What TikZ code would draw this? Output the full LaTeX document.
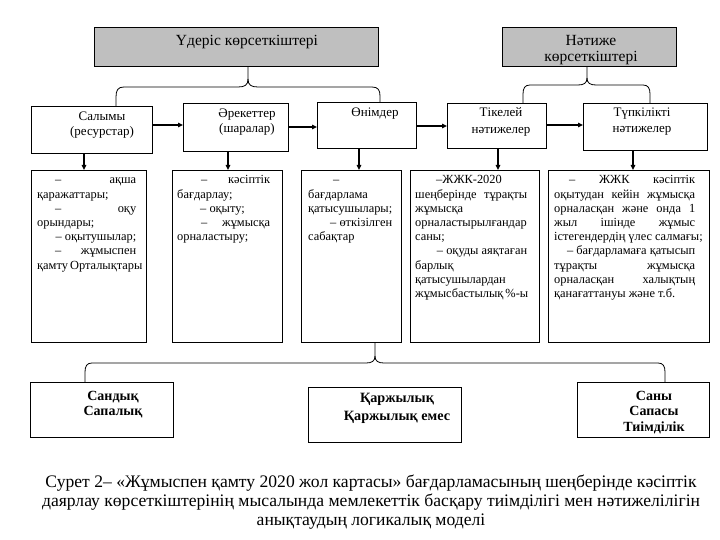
\documentclass[tikz,border=0pt]{standalone}
\usepackage{fontspec}
\setmainfont{Liberation Serif}
\usetikzlibrary{arrows.meta}
\newcommand\Ln[1]{\hbox to \hsize{\strut #1}}
\newcommand\J{\hskip 3pt plus 1fil\relax}
\newcommand\Dh{\hbox{–}}
\newcommand\JI[2]{\hbox to #1{\hfil}\hbox to \dimexpr\hsize-#1\relax{#2}}
\tikzset{
  box/.style={draw, line width=1.1pt, anchor=north west, inner sep=0},
  gbox/.style={box, fill=gray!50},
  gh/.style={align=center, inner sep=0, font=\fontsize{15.5}{16}\selectfont},
  hd/.style={align=center, inner sep=0, font=\fontsize{13}{15}\selectfont},
  bt/.style={align=center, inner sep=0, font=\bfseries\fontsize{14}{15.5}\selectfont},
  dt/.style={anchor=base west, inner sep=0, font=\fontsize{12.4}{14.2}\selectfont},
  arr/.style={line width=1.6pt, -{Triangle[length=5pt,width=4.5pt]}},
  br/.style={line width=0.8pt},
}
\begin{document}
\begin{tikzpicture}[x=1pt,y=-1pt]
\useasboundingbox (0,0) rectangle (720,540);
% top gray boxes
\node[gbox, minimum width=284pt, minimum height=39pt] (proc) at (94,27) {};
\node[gbox, minimum width=174pt, minimum height=39pt] (res) at (502,27) {};
\node[gh] (proct) at (247,42) {Үдеріс көрсеткіштері};
\node[gh] (rest) at (591,50) {Нәтиже\\көрсеткіштері};
% row 1
\node[box, minimum width=121pt, minimum height=47pt] (sal) at (31,106) {};
\node[box, minimum width=105pt, minimum height=48pt] (are) at (183,103) {};
\node[box, minimum width=99pt, minimum height=46pt] (oni) at (317,102) {};
\node[box, minimum width=99pt, minimum height=45pt] (tik) at (447,103) {};
\node[box, minimum width=124pt, minimum height=47pt] (tup) at (583,103) {};
\node[hd] (salt) at (102,125.5) {Салымы\\(ресурстар)};
\node[hd] (aret) at (247,122.5) {Әрекеттер\\(шаралар)};
\node[hd] (onit) at (375,114) {Өнімдер};
\node[hd, font=\fontsize{13}{17}\selectfont] (tikt) at (501,121.5) {Тікелей\\нәтижелер};
\node[hd, font=\fontsize{13}{16}\selectfont] (tupt) at (642,122) {Түпкілікті\\нәтижелер};
% row 2 boxes
\node[box, minimum width=115pt, minimum height=172pt] (d1) at (31,170) {};
\node[box, minimum width=110pt, minimum height=172pt] (d2) at (172,170) {};
\node[box, minimum width=100pt, minimum height=172pt] (d3) at (301,170) {};
\node[box, minimum width=129pt, minimum height=172pt] (d4) at (410,170) {};
\node[box, minimum width=161pt, minimum height=172pt] (d5) at (548,170) {};
% row 2 texts
\node[dt] (d1t) at (37,184) {\parbox[t]{99pt}{%
\Ln{\JI{18pt}{\Dh\hfil ақша}}
\Ln{қаражаттары;\hfil}
\Ln{\JI{18pt}{\Dh\hfil оқу}}
\Ln{орындары;\hfil}
\Ln{\hfil – оқытушылар;}
\Ln{\JI{18pt}{\Dh\hfil жұмыспен}}
\Ln{қамту Орталықтары\hfil}}};
\node[dt] (d2t) at (177,184) {\parbox[t]{93pt}{%
\Ln{\JI{24pt}{\Dh\hfil кәсіптік}}
\Ln{бағдарлау;\hfil}
\Ln{\JI{23pt}{– оқыту;\hfil}}
\Ln{\JI{24pt}{\Dh\hfil жұмысқа}}
\Ln{орналастыру;\hfil}}};
\node[dt] (d3t) at (308,184) {\parbox[t]{84pt}{%
\Ln{\JI{25pt}{\Dh\hfil}}
\Ln{бағдарлама\hfil}
\Ln{қатысушылары;\hfil}
\Ln{\hfil – өткізілген}
\Ln{сабақтар\hfil}}};
\node[dt] (d4t) at (415,184) {\parbox[t]{112pt}{%
\Ln{\JI{21pt}{–ЖЖК-2020\hfil}}
\Ln{шеңберінде\J тұрақты}
\Ln{жұмысқа\hfil}
\Ln{орналастырылғандар\hfil}
\Ln{саны;\hfil}
\Ln{\hfil – оқуды аяқтаған}
\Ln{барлық\hfil}
\Ln{қатысушылардан\hfil}
\Ln{жұмысбастылық \%-ы\hfil}}};
\node[dt] (d5t) at (554,184) {\parbox[t]{141pt}{%
\Ln{\JI{15pt}{\Dh\J ЖЖК\J кәсіптік}}
\Ln{оқытудан\J кейін\J жұмысқа}
\Ln{орналасқан\J және\J онда\J 1}
\Ln{жыл\J ішінде\J жұмыс}
\Ln{істегендердің\J үлес\J салмағы;}
\Ln{\hfil – бағдарламаға қатысып}
\Ln{тұрақты\J жұмысқа}
\Ln{орналасқан\J халықтың}
\Ln{қанағаттануы және т.б.\hfil}}};
% bottom boxes
\node[box, minimum width=143pt, minimum height=55pt] (sand) at (30,382) {};
\node[box, minimum width=153pt, minimum height=55pt] (karzh) at (308,387) {};
\node[box, minimum width=132pt, minimum height=55pt] (sany) at (577,382) {};
\node[bt] (sandt) at (113,404.5) {Сандық\\Сапалық};
\node[bt, font=\bfseries\fontsize{14.2}{18}\selectfont] (karzht) at (397,408) {Қаржылық\\Қаржылық емес};
\node[bt] (sanyt) at (654,412.5) {Саны\\Сапасы\\Тиімділік};
% horizontal arrows
\draw[arr] (sal.east |- 0,125) -- (are.west |- 0,125);
\draw[arr] (are.east |- 0,127) -- (oni.west |- 0,127);
\draw[arr] (oni.east |- 0,126) -- (tik.west |- 0,126);
\draw[arr] (tik.east |- 0,125) -- (tup.west |- 0,125);
% vertical arrows
\draw[arr] (sal.south -| 84,0) -- (d1.north -| 84,0);
\draw[arr] (are.south -| 228,0) -- (d2.north -| 228,0);
\draw[arr] (oni.south -| 359,0) -- (d3.north -| 359,0);
\draw[arr] (tik.south -| 498,0) -- (d4.north -| 498,0);
\draw[arr] (tup.south -| 633,0) -- (d5.north -| 633,0);
% braces
\draw[br] (proc.south -| 248,0) -- (248,79) .. controls (248,85) and (245,87) .. (238,87) -- (124,87) .. controls (118,87) and (116,90) .. (116,97) -- (sal.north -| 116,0);
\draw[br] (248,79) .. controls (248,85) and (251,87) .. (258,87) -- (372,87) .. controls (378,87) and (380,90) .. (380,96) -- (oni.north -| 380,0);
\draw[br] (res.south -| 587,0) -- (587,78) .. controls (587,83) and (584,85) .. (578,85) -- (530,85) .. controls (525,85) and (523,88) .. (523,94) -- (tik.north -| 523,0);
\draw[br] (587,78) .. controls (587,83) and (590,85) .. (596,85) -- (643,85) .. controls (648,85) and (650,88) .. (650,94) -- (tup.north -| 650,0);
\draw[br] (d3.south -| 375,0) -- (375,356) .. controls (375,361) and (372,363) .. (366,363) -- (92,363) .. controls (87,363) and (85,366) .. (85,372) -- (sand.north -| 85,0);
\draw[br] (375,356) .. controls (375,361) and (378,363) .. (384,363) -- (658,363) .. controls (663,363) and (665,366) .. (665,372) -- (sany.north -| 665,0);
% caption
\node[align=center, inner sep=0, font=\fontsize{17.6}{19}\selectfont] (cap) at (371,502) {Сурет 2– «Жұмыспен қамту 2020 жол картасы» бағдарламасының шеңберінде кәсіптік\\
даярлау көрсеткіштерінің мысалында мемлекеттік басқару тиімділігі мен нәтижелілігін\\
анықтаудың логикалық моделі};
\end{tikzpicture}
\end{document}
